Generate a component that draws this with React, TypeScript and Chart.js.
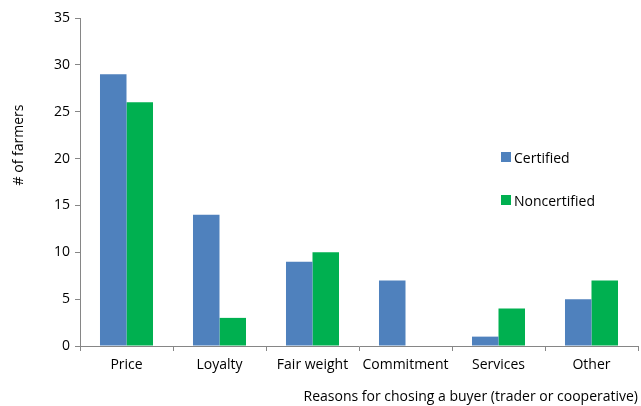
import React, { useEffect, useRef } from "react";
import { Chart, registerables } from "chart.js";

Chart.register(...registerables);

const categories = ["Price", "Loyalty", "Fair weight", "Commitment", "Services", "Other"];
const certified = [29, 14, 9, 7, 1, 5];
const noncertified = [26, 3, 10, 0, 4, 7];
const seriesNames = ["Certified", "Noncertified"];
const colors = ["#4F81BD", "#00B050"];
const yTitle = "# of farmers";
const xTitle = "Reasons for chosing a buyer (trader or cooperative)";

const FONT = "'Open Sans', 'Noto Sans', sans-serif";

const yTitlePlugin = {
  id: "yTitleCustom",
  afterDraw(chart: any) {
    const ctx = chart.ctx;
    ctx.save();
    ctx.translate(19, 145);
    ctx.rotate(-Math.PI / 2);
    ctx.font = `14px ${FONT}`;
    ctx.fillStyle = "#000";
    ctx.textAlign = "center";
    ctx.textBaseline = "middle";
    ctx.fillText(yTitle, 0, 0);
    ctx.restore();
  },
};

export default function App() {
  const ref = useRef<HTMLCanvasElement | null>(null);

  useEffect(() => {
    if (!ref.current) return;
    const chart = new Chart(ref.current, {
      type: "bar",
      data: {
        labels: categories,
        datasets: [
          { label: seriesNames[0], data: certified, backgroundColor: colors[0], categoryPercentage: 0.57, barPercentage: 1 },
          { label: seriesNames[1], data: noncertified, backgroundColor: colors[1], categoryPercentage: 0.57, barPercentage: 1 },
        ],
      },
      options: {
        animation: false,
        responsive: false,
        maintainAspectRatio: false,
        layout: { padding: { top: 18, right: 3, left: 0, bottom: 0 } },
        plugins: { legend: { display: false }, tooltip: { enabled: false } },
        scales: {
          x: {
            offset: true,
            grid: { display: true, drawOnChartArea: false, drawTicks: true, tickLength: 5, color: "#868686", offset: true },
            border: { color: "#868686" },
            ticks: { color: "#000", font: { family: FONT, size: 14 }, padding: 6, maxRotation: 0 },
            title: { display: true, text: xTitle, align: "end", color: "#000", font: { family: FONT, size: 14 }, padding: { top: 0, bottom: 1 } },
            afterFit: (s: any) => { s.height = 60; },
          },
          y: {
            min: 0,
            max: 35,
            ticks: { stepSize: 5, color: "#000", font: { family: FONT, size: 14 }, padding: 5 },
            grid: { display: true, drawOnChartArea: false, drawTicks: true, tickLength: 5, color: "#868686" },
            border: { color: "#868686" },
            title: { display: false },
            afterFit: (s: any) => { s.width = 80; },
          },
        },
      },
      plugins: [yTitlePlugin],
    });
    return () => chart.destroy();
  }, []);

  const legendItem = (i: number, top: number) => (
    <div
      key={i}
      style={{ position: "absolute", left: 501, top: top - 10, height: 20, display: "flex", alignItems: "center", fontFamily: FONT, fontSize: 14, color: "#000", whiteSpace: "nowrap" }}
    >
      <span style={{ display: "inline-block", width: 10, height: 10, background: colors[i], marginRight: 3 }} />
      <span>{seriesNames[i]}</span>
    </div>
  );

  return (
    <div style={{ position: "fixed", left: 0, top: 0, width: 641, height: 406, background: "#fff", overflow: "hidden" }}>
      <canvas ref={ref} width={641} height={406} style={{ display: "block" }} />
      {legendItem(0, 157)}
      {legendItem(1, 200)}
    </div>
  );
}
